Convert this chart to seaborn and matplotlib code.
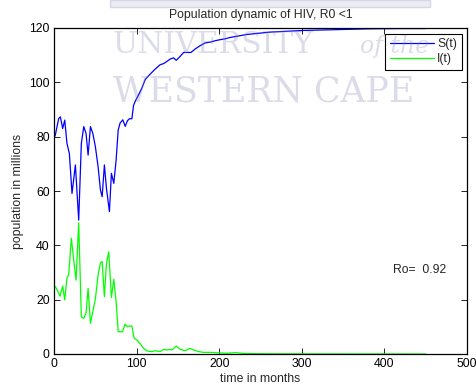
import numpy as np
import pandas as pd
import matplotlib
matplotlib.use("Agg")
import matplotlib.pyplot as plt
from matplotlib.patches import Rectangle
import seaborn as sns

# ---- data ----
S_t = [0, 1.6, 5.7, 7.7, 10.5, 13, 15.7, 18.6, 21.8, 25.9, 29.9, 33.1, 36, 38.8, 41.3, 44.1, 47,
       50.1, 53.4, 56.2, 58.3, 61, 63.5, 67.1, 69.5, 72.4, 75.2, 77.7, 80, 83.3, 86.2, 89, 91.4,
       94.3, 96.3, 98.3, 102.4, 106.4, 110.4, 114.5, 118.6, 122.6, 128.6, 132.7, 136.7, 140.8,
       144.8, 148, 152.9, 156.9, 161, 165.9, 171, 177, 183, 189, 195, 201, 207, 213, 233, 262,
       302, 343, 383, 420, 450]
S_v = [79.5, 80.6, 86.7, 87.3, 83, 86.1, 77.5, 73.8, 59.1, 69.6, 49.3, 77.5, 83.7, 81.2, 73.2,
       83.7, 81.2, 76.3, 68.9, 60.4, 57.9, 69.6, 61, 52.4, 66.5, 62.8, 71.4, 82.4, 85, 86.2, 83.8,
       85.9, 86.6, 86.6, 91.5, 93, 95.4, 97.9, 101, 102.4, 103.7, 104.9, 106.5, 106.9, 107.7,
       108.6, 109, 108.1, 109.6, 111, 111, 111, 112.3, 113.5, 114.5, 114.8, 115.3, 115.7, 116,
       116.5, 117.6, 118.5, 119.1, 119.4, 119.7, 119.8, 119.8]

I_t = [0, 1.6, 4.9, 7.3, 10.5, 13, 15.8, 17.8, 21, 23.9, 26.7, 29.9, 33.1, 36, 38.8, 41.3, 44.1,
       47, 50.2, 53.4, 56.2, 58.3, 61, 63.5, 66.3, 69.5, 72.4, 75.2, 77.7, 83, 86, 89, 91.4, 94.3,
       97, 100.3, 104, 108.4, 112.5, 118.5, 122.6, 128.6, 132.7, 136.7, 140, 142.8, 148, 152.9,
       159, 164.3, 169, 175, 181, 189, 200, 210, 220, 230, 250, 300, 450]
I_v = [25, 24.8, 22.9, 21.3, 25, 19.9, 28.2, 29.1, 42.6, 34.6, 27.2, 48.3, 13.7, 13.1, 15, 24.2,
       11.3, 15.6, 20.5, 29.1, 33.6, 34, 21.1, 33.3, 37.6, 20.8, 27.5, 19.3, 8.2, 8.2, 11, 10,
       10.3, 10.3, 5.8, 5.2, 3.9, 2.1, 1.1, 0.9, 1.2, 0.9, 1.7, 1.5, 1.7, 1.5, 2.9, 1.7, 1.2, 2.1,
       1.5, 0.9, 0.6, 0.6, 0.4, 0.3, 0.5, 0.2, 0.1, 0.05, 0.0]

series_labels = ["S(t)", "I(t)"]
title = "Population dynamic of HIV, R0 <1"
xlabel = "time in months"
ylabel = "population in millions"
r0_text = "Ro=  0.92"
x_ticks = [0, 100, 200, 300, 400, 500]
y_ticks = [0, 20, 40, 60, 80, 100, 120]

df = pd.concat([
    pd.DataFrame({"t": S_t, "v": S_v, "series": series_labels[0]}),
    pd.DataFrame({"t": I_t, "v": I_v, "series": series_labels[1]}),
], ignore_index=True)

sns.set_style("ticks")
plt.rcParams["font.family"] = ["Liberation Sans", "DejaVu Sans"]
plt.rcParams["font.size"] = 9

FS = 8.8
fig = plt.figure(figsize=(4.77, 3.89), dpi=100)
ax = fig.add_axes([54 / 477, 35 / 389, 413 / 477, 326 / 389])

sns.lineplot(data=df, x="t", y="v", hue="series", palette=["#0000ff", "#00ff00"],
             linewidth=0.9, ax=ax, sort=False, estimator=None, legend=False, zorder=3)

ax.set_xlim(0, 500)
ax.set_ylim(0, 120)
ax.set_xticks(x_ticks)
ax.set_yticks(y_ticks)
ax.tick_params(direction="in", top=True, right=True, length=4, width=0.6, labelsize=FS,
               pad=3, colors="black")
for sp in ax.spines.values():
    sp.set_visible(True)
    sp.set_linewidth(0.9)
    sp.set_color("black")
    sp.set_zorder(4)

ax.set_title(title, fontsize=FS, pad=7)
ax.set_xlabel(xlabel, fontsize=FS, labelpad=2)
ax.set_ylabel(ylabel, fontsize=FS, labelpad=4)

ax.text(411, 31, r0_text, fontsize=FS, ha="left", va="center")

handles = [plt.Line2D([], [], color="#0000ff", lw=0.9),
           plt.Line2D([], [], color="#00ff00", lw=0.9)]
leg = ax.legend(handles, series_labels, loc="upper right", bbox_to_anchor=(0.988, 0.983),
                borderaxespad=0, frameon=True, fancybox=False, framealpha=1, edgecolor="black",
                handlelength=3.6, handletextpad=0.25, borderpad=0.4, labelspacing=0.22,
                fontsize=FS)
leg.get_frame().set_linewidth(0.8)
leg.set_zorder(5)

# faint page watermark, overlaid on the whole page
wm_color = "#8080b0"
wm_alpha = 0.28
ax.add_artist(Rectangle((110 / 477, 1 - 7 / 389), 320 / 477, 7 / 389, transform=fig.transFigure,
                        facecolor="#ececf4", edgecolor="#d6d6e4", lw=1.0, zorder=10,
                        clip_on=False))
serif = ["DejaVu Serif", "Liberation Serif"]
ax.text(113 / 477, 1 - 53 / 389, "UNIVERSITY", transform=fig.transFigure, fontsize=21.5,
        family=serif, color=wm_color, alpha=wm_alpha, ha="left", va="baseline",
        zorder=10, clip_on=False)
ax.text(360 / 477, 1 - 53 / 389, "of the", transform=fig.transFigure, fontsize=17,
        family=serif, style="italic", color=wm_color, alpha=wm_alpha,
        ha="left", va="baseline", zorder=10, clip_on=False)
ax.text(113 / 477, 1 - 102 / 389, "WESTERN CAPE", transform=fig.transFigure, fontsize=25,
        family=serif, color=wm_color, alpha=wm_alpha, ha="left", va="baseline",
        zorder=10, clip_on=False)

fig.savefig("out.png", dpi=100)
